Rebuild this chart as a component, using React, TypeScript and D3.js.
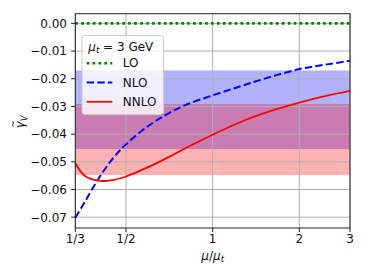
import * as d3 from "d3";
import React, { useEffect, useRef } from "react";

// mu / mu_t sample points
const muValues = [1 / 3, 0.36, 0.4, 0.45, 0.5, 0.6, 0.7, 0.8, 1, 1.25, 1.5, 2, 2.5, 3];
const loValues = [0, 0, 0, 0, 0, 0, 0, 0, 0, 0, 0, 0, 0, 0];
const nloValues = [-0.0702, -0.0644, -0.0563, -0.0488, -0.0437, -0.0369, -0.0326, -0.0296, -0.026, -0.0227, -0.0201, -0.0165, -0.0148, -0.0135];
const nnloValues = [-0.0505, -0.0551, -0.0568, -0.0566, -0.0553, -0.0518, -0.0484, -0.0452, -0.0402, -0.0356, -0.0325, -0.0286, -0.0261, -0.0244];

// uncertainty bands [low, high]
const nloBand = [-0.0454, -0.017];
const nnloBand = [-0.0548, -0.0291];

const xTicks = [1 / 3, 1 / 2, 1, 2, 3];
const xTickLabels = ["1/3", "1/2", "1", "2", "3"];
const yTicks = [0, -0.01, -0.02, -0.03, -0.04, -0.05, -0.06, -0.07];

const seriesNames = ["LO", "NLO", "NNLO"];

export default function App() {
  const ref = useRef<SVGSVGElement | null>(null);

  useEffect(() => {
    document.body.style.margin = "0";
    const node = ref.current;
    if (!node) return;
    node.innerHTML = "";

    const width = 368;
    const height = 276;
    const margin = { top: 13.7, right: 18, bottom: 48, left: 75.3 };
    const font = "DejaVu Sans, sans-serif";

    const svg = d3.select(node).attr("width", width).attr("height", height);

    const x = d3.scaleLog().domain([1 / 3, 3]).range([margin.left, width - margin.right]);
    const y = d3.scaleLinear().domain([-0.0739, 0.0035]).range([height - margin.bottom, margin.top]);

    // bands
    svg.append("rect")
      .attr("x", x(1 / 3)).attr("width", x(3) - x(1 / 3))
      .attr("y", y(nloBand[1])).attr("height", y(nloBand[0]) - y(nloBand[1]))
      .attr("fill", "blue").attr("fill-opacity", 0.3);
    svg.append("rect")
      .attr("x", x(1 / 3)).attr("width", x(3) - x(1 / 3))
      .attr("y", y(nnloBand[1])).attr("height", y(nnloBand[0]) - y(nnloBand[1]))
      .attr("fill", "red").attr("fill-opacity", 0.3);

    // grid
    const grid = svg.append("g").attr("stroke", "#b0b0b0").attr("stroke-width", 1);
    xTicks.forEach(t => {
      grid.append("line").attr("x1", x(t)).attr("x2", x(t))
        .attr("y1", y.range()[0]).attr("y2", y.range()[1]);
    });
    yTicks.forEach(t => {
      grid.append("line").attr("y1", y(t)).attr("y2", y(t))
        .attr("x1", x.range()[0]).attr("x2", x.range()[1]);
    });

    const line = d3.line<number>()
      .x((_, i) => x(muValues[i]))
      .y(d => y(d))
      .curve(d3.curveCatmullRom.alpha(0.5));

    const plot = svg.append("g");
    plot.append("path").datum(nloValues).attr("d", line)
      .attr("fill", "none").attr("stroke", "blue").attr("stroke-width", 2)
      .attr("stroke-dasharray", "7.4,3.2");
    plot.append("path").datum(nnloValues).attr("d", line)
      .attr("fill", "none").attr("stroke", "red").attr("stroke-width", 1.8);
    plot.append("path").datum(loValues).attr("d", line)
      .attr("fill", "none").attr("stroke", "green").attr("stroke-width", 2.6)
      .attr("stroke-dasharray", "2.6,3.3");

    // spines
    svg.append("rect")
      .attr("x", x.range()[0]).attr("y", y.range()[1])
      .attr("width", x.range()[1] - x.range()[0]).attr("height", y.range()[0] - y.range()[1])
      .attr("fill", "none").attr("stroke", "#222").attr("stroke-width", 1);

    // x axis
    const xAxis = svg.append("g").attr("transform", `translate(0,${y.range()[0]})`);
    xTicks.forEach((t, i) => {
      xAxis.append("line").attr("x1", x(t)).attr("x2", x(t)).attr("y1", 0).attr("y2", 4.2)
        .attr("stroke", "#222").attr("stroke-width", 1);
      xAxis.append("text").attr("x", x(t)).attr("y", 14.5)
        .attr("text-anchor", "middle").attr("font-family", font).attr("font-size", 12)
        .attr("fill", "#111").text(xTickLabels[i]);
    });
    const xl = svg.append("text").attr("x", x(1)).attr("y", 259.5)
      .attr("text-anchor", "middle").attr("font-family", font).attr("font-size", 12).attr("fill", "#111");
    xl.append("tspan").attr("font-style", "italic").text("μ");
    xl.append("tspan").text("/");
    xl.append("tspan").attr("font-style", "italic").text("μ");
    xl.append("tspan").attr("font-style", "italic").attr("font-size", 8.5).attr("dy", 2.5).text("t");

    // y axis
    const yAxis = svg.append("g").attr("transform", `translate(${x.range()[0]},0)`);
    const fmt = d3.format(".2f");
    yTicks.forEach(t => {
      yAxis.append("line").attr("x1", -4.2).attr("x2", 0).attr("y1", y(t)).attr("y2", y(t))
        .attr("stroke", "#222").attr("stroke-width", 1);
      yAxis.append("text").attr("x", -8.4).attr("y", y(t)).attr("dy", "0.36em")
        .attr("text-anchor", "end").attr("font-family", font).attr("font-size", 12)
        .attr("fill", "#111").text(fmt(t));
    });
    const yl = svg.append("g").attr("transform", "translate(24,122) rotate(-90)");
    const ylt = yl.append("text").attr("x", 0).attr("y", 0).attr("text-anchor", "middle")
      .attr("font-family", font).attr("font-size", 12).attr("fill", "#111");
    ylt.append("tspan").attr("font-style", "italic").text("γ");
    ylt.append("tspan").attr("font-style", "italic").attr("font-size", 8.5).attr("dy", 2.5).text("V");
    yl.append("text").attr("x", -2).attr("y", -8).attr("text-anchor", "middle")
      .attr("font-family", font).attr("font-size", 9).attr("fill", "#111").text("~");

    // legend
    const lg = svg.append("g");
    lg.append("rect").attr("x", 82).attr("y", 35.5).attr("width", 81.5).attr("height", 79)
      .attr("rx", 3).attr("fill", "white").attr("fill-opacity", 0.8)
      .attr("stroke", "#cccccc").attr("stroke-width", 1);
    const title = lg.append("text").attr("x", 88.3).attr("y", 50.7)
      .attr("font-family", font).attr("font-size", 12).attr("fill", "#111");
    title.append("tspan").attr("font-style", "italic").text("μ");
    title.append("tspan").attr("font-style", "italic").attr("font-size", 8.5).attr("dy", 2.5).text("t");
    title.append("tspan").attr("dy", -2.5).text(" = 3 GeV");

    const styles = [
      { color: "green", width: 2.6, dash: "2.6,3.3" },
      { color: "blue", width: 2, dash: "7.4,3.2" },
      { color: "red", width: 1.8, dash: null as string | null },
    ];
    seriesNames.forEach((name, i) => {
      const by = 67.2 + i * 19.3;
      const s = styles[i];
      const hl = lg.append("line").attr("x1", 86.7).attr("x2", 112.3)
        .attr("y1", by - 4).attr("y2", by - 4)
        .attr("stroke", s.color).attr("stroke-width", s.width);
      if (s.dash) hl.attr("stroke-dasharray", s.dash);
      lg.append("text").attr("x", 122.7).attr("y", by)
        .attr("font-family", font).attr("font-size", 12).attr("fill", "#111").text(name);
    });
  }, []);

  return <svg ref={ref} style={{ display: "block" }} />;
}
